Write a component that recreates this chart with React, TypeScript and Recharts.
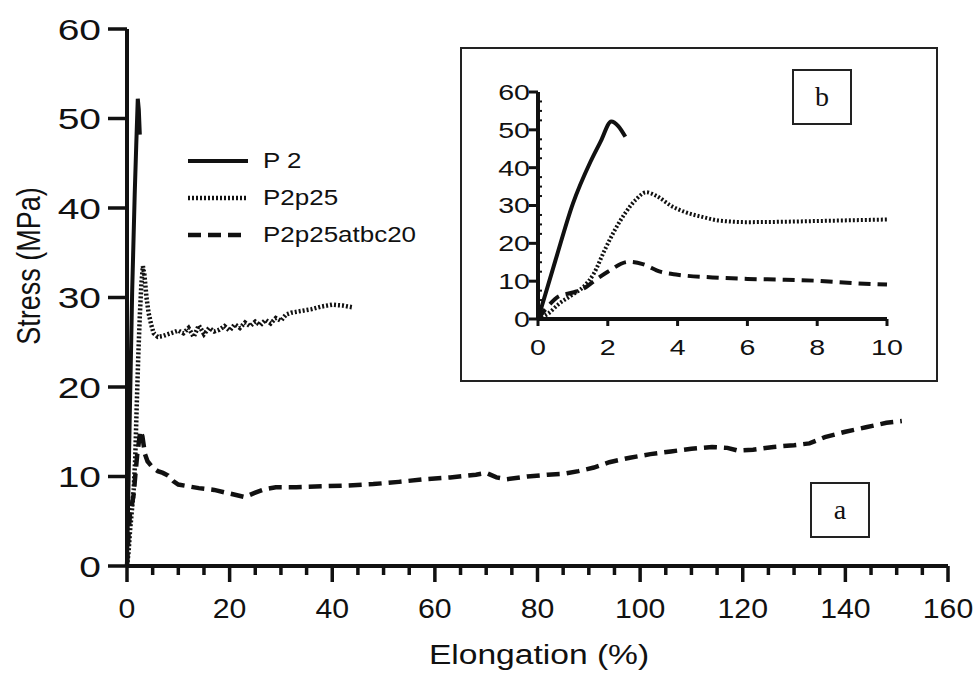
import { LineChart, Line, XAxis, YAxis, Legend } from 'recharts';

// P 2 (solid)
const p2Elong = [0, 0.5, 1, 1.5, 1.8, 2.1, 2.3, 2.5];
const p2Stress = [0, 15.5, 30.5, 41.5, 47, 52.2, 51, 48.2];

// P2p25 (dotted)
const p2p25Elong = [0, 0.3, 0.6, 1, 1.3, 1.6, 1.9, 2.2, 2.5, 2.8, 3.1, 3.4, 3.8, 4.2, 4.7, 5.2, 6, 7, 8, 9, 10, 11, 12, 13, 14, 15, 16, 17, 18, 19, 20, 21, 22, 23, 24, 25, 26, 27, 28, 29, 30, 31, 32, 34, 36, 38, 40, 42, 44];
const p2p25Stress = [0, 1.5, 4, 6.5, 8.5, 12, 18, 23.5, 28, 31.5, 33.5, 32.5, 30, 28.3, 27, 26, 25.6, 25.7, 25.9, 26.1, 26.3, 26.0, 26.6, 25.6, 26.9, 25.9, 26.6, 26.2, 26.4, 26.8, 26.3, 27.0, 26.6, 27.2, 26.8, 27.3, 26.9, 27.5, 27.1, 27.7, 27.4, 28.1, 28.3, 28.5, 28.7, 29.0, 29.2, 29.1, 28.9];

// P2p25atbc20 (dashed)
const atbcElong = [0, 0.3, 0.6, 1, 1.3, 1.6, 2, 2.6, 3, 3.5, 4, 5, 6, 7, 8, 9, 10, 12, 14, 17, 20, 23, 25, 27, 29, 33, 38, 43, 48, 53, 58, 63, 68, 70, 72, 74, 78, 82, 85, 88, 91, 94, 98, 102, 106, 110, 114, 117, 119, 122, 126, 130, 133, 136, 140, 144, 148, 151];
const atbcStress = [0, 3.5, 6, 7, 8, 10, 12.5, 15.1, 14.5, 12.5, 11.7, 11, 10.6, 10.4, 10.1, 9.5, 9.1, 8.9, 8.7, 8.5, 8.1, 7.7, 8.2, 8.6, 8.8, 8.8, 8.9, 9.0, 9.15, 9.4, 9.7, 9.9, 10.2, 10.4, 9.9, 9.7, 10.0, 10.2, 10.3, 10.6, 11.0, 11.6, 12.1, 12.5, 12.8, 13.1, 13.3, 13.2, 12.9, 13.0, 13.3, 13.5, 13.7, 14.4, 15.0, 15.5, 16.0, 16.2];

const seriesNames = ['P 2', 'P2p25', 'P2p25atbc20'];

const mainXTicks = [0, 5, 10, 15, 20, 25, 30, 35, 40, 45, 50, 55, 60, 65, 70, 75, 80, 85, 90, 95, 100, 105, 110, 115, 120, 125, 130, 135, 140, 145, 150, 155, 160];
const mainYTicks = [0, 10, 20, 30, 40, 50, 60];
const insetXTicks = [0, 2, 4, 6, 8, 10];
const insetYTicks = [0, 2.5, 5, 7.5, 10, 12.5, 15, 17.5, 20, 22.5, 25, 27.5, 30, 32.5, 35, 37.5, 40, 42.5, 45, 47.5, 50, 52.5, 55, 57.5, 60];

const INK = '#111';
const FONT = '"Liberation Sans", Arial, Helvetica, sans-serif';

const zip = (xs: number[], ys: number[]) => xs.map((x, i) => ({ x, y: ys[i] }));
const series = [zip(p2Elong, p2Stress), zip(p2p25Elong, p2p25Stress), zip(atbcElong, atbcStress)];
const insetSeries = series.map((s) => s.filter((d) => d.x <= 10));

const styles: Record<string, { dash?: string; width: number; insetDash?: string }> = {
  'P 2': { width: 4 },
  'P2p25': { dash: '2 2', width: 4.5, insetDash: '2 2' },
  'P2p25atbc20': { dash: '13 7', width: 4.5, insetDash: '12 7' },
};

// the source figure is stretched sideways, so text gets a horizontal scale
const MainXTick = (props: any) => {
  const { x, y, payload } = props;
  const major = payload.value % 20 === 0;
  return (
    <g>
      <line x1={x} x2={x} y1={y} y2={y + (major ? 16 : 9)} stroke={INK} strokeWidth={3.5} />
      {major && (
        <text transform={`translate(${x},${y + 52}) scale(1.08,1)`} textAnchor="middle" fontSize={28} fill={INK} fontFamily={FONT}>
          {payload.value}
        </text>
      )}
    </g>
  );
};

const MainYTick = (props: any) => {
  const { x, y, payload } = props;
  return (
    <g>
      <line x1={x - 19} x2={x} y1={y} y2={y} stroke={INK} strokeWidth={3.5} />
      <text transform={`translate(${x - 26},${y}) scale(1.3,1)`} dy="0.36em" textAnchor="end" fontSize={30} fill={INK} fontFamily={FONT}>
        {payload.value}
      </text>
    </g>
  );
};

const InsetXTick = (props: any) => {
  const { x, y, payload } = props;
  return (
    <g>
      <line x1={x} x2={x} y1={y} y2={y + 7} stroke={INK} strokeWidth={3} />
      <text transform={`translate(${x},${y + 36}) scale(1.3,1)`} textAnchor="middle" fontSize={22} fill={INK} fontFamily={FONT}>
        {payload.value}
      </text>
    </g>
  );
};

const InsetYTick = (props: any) => {
  const { x, y, payload } = props;
  if (payload.value % 10 !== 0) {
    return <line x1={x} x2={x + 4} y1={y} y2={y} stroke={INK} strokeWidth={2} />;
  }
  return (
    <g>
      <line x1={x - 9} x2={x} y1={y} y2={y} stroke={INK} strokeWidth={3} />
      <text transform={`translate(${x - 8},${y}) scale(1.3,1)`} dy="0.36em" textAnchor="end" fontSize={22} fill={INK} fontFamily={FONT}>
        {payload.value}
      </text>
    </g>
  );
};

const LegendBox = (props: any) => {
  const payload = props.payload || [];
  return (
    <div style={{ fontFamily: FONT, fontSize: 22, color: INK }}>
      {payload.map((entry: any) => {
        const st = styles[entry.value] || { width: 3 };
        return (
          <div key={entry.value} style={{ display: 'flex', alignItems: 'center', height: 37 }}>
            <svg width={62} height={10}>
              <line x1={0} x2={60} y1={5} y2={5} stroke={INK} strokeWidth={st.width} strokeDasharray={st.dash} />
            </svg>
            <span style={{ marginLeft: 13, display: 'inline-block', transform: 'scaleX(1.18)', transformOrigin: 'left center', whiteSpace: 'nowrap' }}>
              {entry.value}
            </span>
          </div>
        );
      })}
    </div>
  );
};

const boxStyle = (left: number, top: number) => ({
  position: 'absolute' as const,
  left,
  top,
  width: 56,
  height: 52,
  border: '2px solid #222',
  background: '#fff',
  display: 'flex',
  alignItems: 'center',
  justifyContent: 'center',
  fontFamily: '"Liberation Serif", "Times New Roman", serif',
  fontSize: 28,
  color: INK,
  lineHeight: 1,
});

export default function App() {
  return (
    <div style={{ position: 'absolute', left: 0, top: 0, width: 979, height: 677, background: '#fff' }}>
      <LineChart width={979} height={677} margin={{ top: 29, right: 31, bottom: 11, left: 0 }}>
        <XAxis
          type="number"
          dataKey="x"
          domain={[0, 160]}
          ticks={mainXTicks}
          interval={0}
          tickSize={0}
          tickMargin={0}
          tick={MainXTick}
          axisLine={{ stroke: INK, strokeWidth: 4 }}
          height={100}
          label={{
            content: () => (
              <text transform="translate(539,664) scale(1.2,1)" textAnchor="middle" fontSize={28} fill={INK} fontFamily={FONT}>
                Elongation (%)
              </text>
            ),
          }}
        />
        <YAxis
          type="number"
          dataKey="y"
          domain={[0, 60]}
          ticks={mainYTicks}
          interval={0}
          width={127}
          tickSize={0}
          tickMargin={0}
          tick={MainYTick}
          axisLine={{ stroke: INK, strokeWidth: 4 }}
          label={{
            content: () => (
              <text transform="translate(28,266) scale(1.25,1) rotate(-90)" textAnchor="middle" dy="0.36em" fontSize={27} fill={INK} fontFamily={FONT}>
                Stress (MPa)
              </text>
            ),
          }}
        />
        <Legend
          layout="vertical"
          align="center"
          verticalAlign="middle"
          content={LegendBox}
          wrapperStyle={{ position: 'absolute', left: 188, top: 142, width: 'auto' }}
        />
        {seriesNames.map((name, i) => (
          <Line
            key={name}
            data={series[i]}
            dataKey="y"
            name={name}
            type="linear"
            stroke={INK}
            strokeWidth={styles[name].width}
            strokeDasharray={styles[name].dash}
            dot={false}
            isAnimationActive={false}
          />
        ))}
      </LineChart>

      <div style={{ position: 'absolute', left: 460, top: 47, width: 474, height: 331, border: '2px solid #222', background: '#fff' }}>
        <LineChart width={474} height={331} margin={{ top: 43, right: 49, bottom: 21, left: 0 }}>
          <XAxis
            type="number"
            dataKey="x"
            domain={[0, 10]}
            ticks={insetXTicks}
            interval={0}
            tickSize={0}
            tickMargin={0}
            tick={InsetXTick}
            axisLine={{ stroke: INK, strokeWidth: 4 }}
            height={40}
          />
          <YAxis
            type="number"
            dataKey="y"
            domain={[0, 60]}
            ticks={insetYTicks}
            interval={0}
            width={76}
            tickSize={0}
            tickMargin={0}
            tick={InsetYTick}
            axisLine={{ stroke: INK, strokeWidth: 4 }}
          />
          {seriesNames.map((name, i) => (
            <Line
              key={name}
              data={insetSeries[i]}
              dataKey="y"
              name={name}
              type="monotone"
              stroke={INK}
              strokeWidth={4}
              strokeDasharray={styles[name].insetDash}
              dot={false}
              isAnimationActive={false}
            />
          ))}
        </LineChart>
      </div>

      <div style={boxStyle(792, 69)}>b</div>
      <div style={boxStyle(810, 482)}>a</div>
    </div>
  );
}
